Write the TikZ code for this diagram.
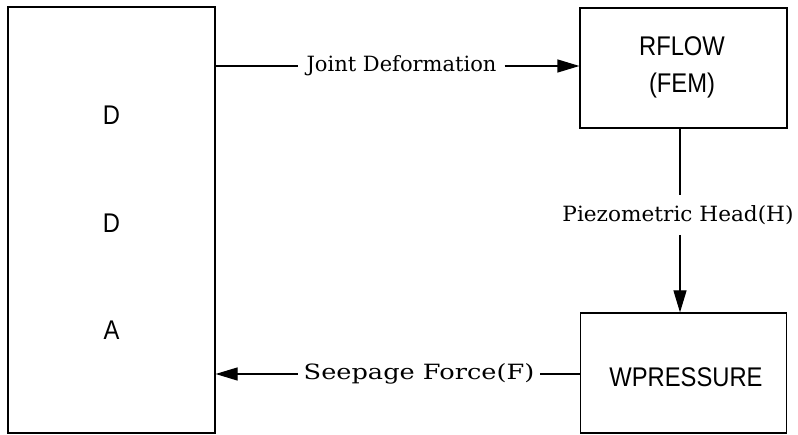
\documentclass[tikz,border=0pt]{standalone}
\usepackage{fontspec}
\usetikzlibrary{arrows.meta,calc}
\newfontfamily\boxfont[FakeStretch=0.88]{Liberation Sans}
\newfontfamily\labfont{DejaVu Serif}
\newfontfamily\labfontwide[FakeStretch=1.22]{DejaVu Serif}
\newfontfamily\labfontmid[FakeStretch=1.03]{DejaVu Serif}
\begin{document}
\begin{tikzpicture}[x=1pt,y=-1pt,
  blk/.style={draw,line width=1.2pt,inner sep=0pt},
  btext/.style={font=\boxfont\fontsize{27}{37}\selectfont,align=center,inner sep=0pt},
  lab/.style={font=\labfont\fontsize{21}{24}\selectfont,inner xsep=8pt,inner ysep=10pt},
  conn/.style={line width=1.2pt},
  arr/.style={line width=1.2pt,-{Triangle[length=22pt,width=13pt]}}]
\useasboundingbox (0,0) rectangle (798,435);
\node[blk,minimum width=207pt,minimum height=426pt] (dda) at (111.5,220) {};
\node[btext] (d1) at (111.5,115) {D};
\node[btext] (d2) at (111.5,223) {D};
\node[btext] (a1) at (111.5,330) {A};
\node[blk,minimum width=207pt,minimum height=120pt] (rflow) at (683.5,68) {};
\node[btext] (rft) at (682,67) {RFLOW\\(FEM)};
\node[blk,minimum width=206pt,minimum height=120pt] (wp) at (683.5,373) {};
\node[btext] (wpt) at (686,377) {WPRESSURE};
\node[lab] (jd) at (401.5,66) {Joint Deformation};
\node[lab,font=\labfontmid\fontsize{21}{24}\selectfont] (ph) at (678,215) {Piezometric Head(H)};
\node[lab,font=\labfontwide\fontsize{21}{24}\selectfont,inner xsep=6pt] (sf) at (419,374) {Seepage Force(F)};
\draw[conn] (dda.east |- jd) -- (jd.west);
\draw[arr] (jd.east) -- (rflow.west |- jd);
\draw[conn] (rflow.south -| 680,0) -- (680,0 |- ph.north);
\draw[arr] (680,0 |- ph.south) -- (wp.north -| 680,0);
\draw[conn] (wp.west |- sf) -- (sf.east);
\draw[arr] (sf.west) -- (dda.east |- sf);
\end{tikzpicture}
\end{document}
